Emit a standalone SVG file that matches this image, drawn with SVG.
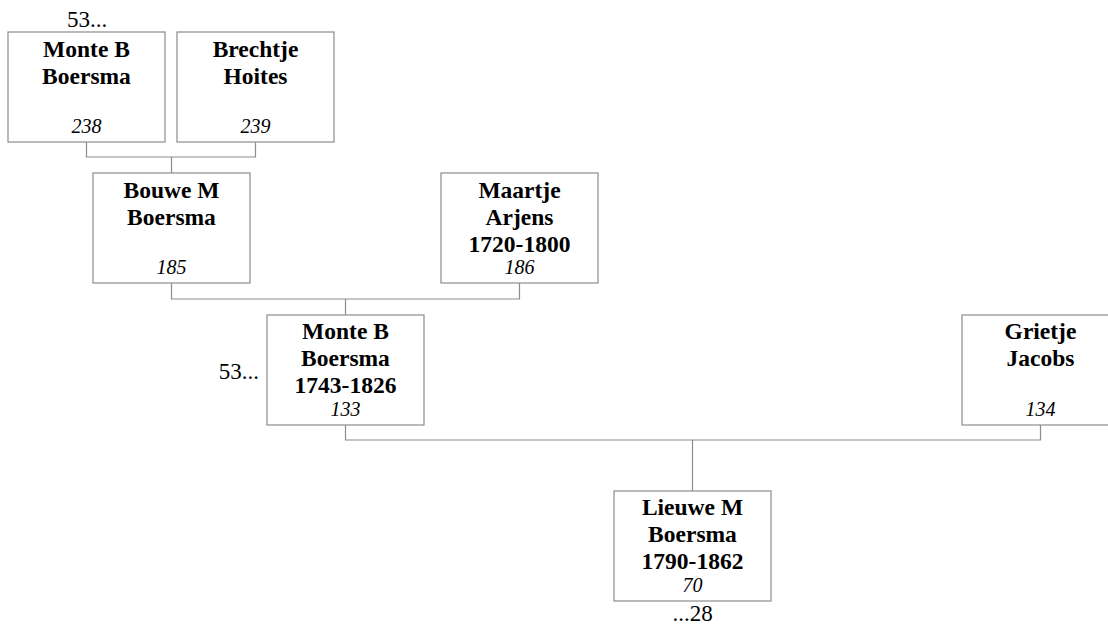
<svg xmlns="http://www.w3.org/2000/svg" width="1108" height="626" viewBox="0 0 1108 626">
<style>
.box{fill:#fff;stroke:#8c8c8c;stroke-width:1.2}
.ln{fill:none;stroke:#8c8c8c;stroke-width:1.2}
.nm{font-family:"Liberation Serif","Times New Roman",serif;font-weight:bold;font-size:23.5px;text-anchor:middle;fill:#000}
.id{font-family:"Liberation Serif","Times New Roman",serif;font-style:italic;font-size:20px;text-anchor:middle;fill:#000}
.rf{font-family:"Liberation Serif","Times New Roman",serif;font-size:23px;fill:#000}
</style>
<rect width="1108" height="626" fill="#fff"/>
<g id="connectors">
<polyline class="ln" points="86.5,142 86.5,157 255.5,157 255.5,142"/>
<line class="ln" x1="171.5" y1="157" x2="171.5" y2="173"/>
<polyline class="ln" points="171.5,283 171.5,299 519.5,299 519.5,283"/>
<line class="ln" x1="345.5" y1="299" x2="345.5" y2="315"/>
<polyline class="ln" points="345.5,425 345.5,440 1040.5,440 1040.5,425"/>
<line class="ln" x1="692.5" y1="440" x2="692.5" y2="491"/>
</g>
<g id="p238">
<rect class="box" x="8" y="32" width="157" height="110"/>
<text class="nm" x="86.5" y="57">Monte B</text>
<text class="nm" x="86.5" y="84">Boersma</text>
<text class="id" x="86.5" y="133">238</text>
<text class="rf" x="87" y="27" text-anchor="middle">53...</text>
</g>
<g id="p239">
<rect class="box" x="177" y="32" width="157" height="110"/>
<text class="nm" x="255.5" y="57">Brechtje</text>
<text class="nm" x="255.5" y="84">Hoites</text>
<text class="id" x="255.5" y="133">239</text>
</g>
<g id="p185">
<rect class="box" x="93" y="173" width="157" height="110"/>
<text class="nm" x="171.5" y="198">Bouwe M</text>
<text class="nm" x="171.5" y="225">Boersma</text>
<text class="id" x="171.5" y="274">185</text>
</g>
<g id="p186">
<rect class="box" x="441" y="173" width="157" height="110"/>
<text class="nm" x="519.5" y="198">Maartje</text>
<text class="nm" x="519.5" y="225">Arjens</text>
<text class="nm" x="519.5" y="252">1720-1800</text>
<text class="id" x="519.5" y="274">186</text>
</g>
<g id="p133">
<rect class="box" x="267" y="315" width="157" height="110"/>
<text class="nm" x="345.5" y="339">Monte B</text>
<text class="nm" x="345.5" y="366">Boersma</text>
<text class="nm" x="345.5" y="393">1743-1826</text>
<text class="id" x="345.5" y="416">133</text>
<text class="rf" x="259" y="379" text-anchor="end">53...</text>
</g>
<g id="p134">
<rect class="box" x="962" y="315" width="157" height="110"/>
<text class="nm" x="1040.5" y="339">Grietje</text>
<text class="nm" x="1040.5" y="366">Jacobs</text>
<text class="id" x="1040.5" y="416">134</text>
</g>
<g id="p70">
<rect class="box" x="614" y="491" width="157" height="110"/>
<text class="nm" x="692.5" y="515">Lieuwe M</text>
<text class="nm" x="692.5" y="542">Boersma</text>
<text class="nm" x="692.5" y="569">1790-1862</text>
<text class="id" x="692.5" y="592">70</text>
<text class="rf" x="692.5" y="621" text-anchor="middle">...28</text>
</g>
</svg>
